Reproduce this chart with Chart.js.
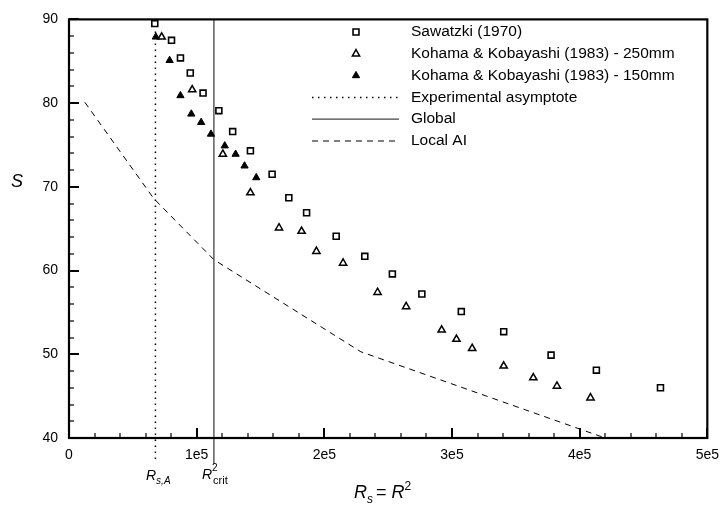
<!DOCTYPE html>
<html>
<head>
<meta charset="utf-8">
<script src="https://cdn.jsdelivr.net/npm/chart.js@4/dist/chart.umd.min.js"></script>
<style>
  html, body { margin: 0; padding: 0; background: #fff; }
  #wrap { width: 728px; height: 508px; }
</style>
</head>
<body>
<div id="wrap"><canvas id="sChart" width="728" height="508"></canvas></div>
<script>
// data
let sawX = [67200, 80300, 87300, 95000, 105000, 117400, 128200, 142100, 159100, 172200, 186100, 209300, 231700, 253300, 276400, 307300, 340500, 377600, 413100, 463300];
let sawY = [89.5, 87.5, 85.4, 83.6, 81.2, 79.1, 76.6, 74.3, 71.5, 68.7, 66.9, 64.1, 61.7, 59.6, 57.2, 55.1, 52.7, 49.9, 48.1, 46.0];

let k250X = [72600, 96500, 120500, 142100, 164500, 182200, 193800, 214700, 241700, 264100, 291900, 303500, 315800, 340500, 363700, 382200, 408500];
let k250Y = [87.9, 81.6, 73.9, 69.3, 65.1, 64.7, 62.3, 60.9, 57.4, 55.7, 52.9, 51.8, 50.7, 48.6, 47.2, 46.2, 44.8];

let k150X = [68000, 78800, 87300, 95800, 103500, 111200, 122000, 130500, 137500, 146700];
let k150Y = [87.9, 85.1, 80.9, 78.7, 77.7, 76.3, 74.9, 73.9, 72.5, 71.1];

let localX = [12400, 66400, 113500, 228600, 420000];
let localY = [80.1, 68.6, 61.3, 50.3, 40.0];

// vertical lines run a bit below the axis down to their labels
let asymX = 67700;
let asymY = [37.5, 90];
let globalX = 113500;
let globalY = [36.9, 90];

let xTicks = [0, 100000, 200000, 300000, 400000, 500000];
let yTicks = [40, 50, 60, 70, 80, 90];
let xMinorStep = 20000;
let yMinorStep = 2;

let labels = [
  "Sawatzki (1970)",
  "Kohama & Kobayashi (1983) - 250mm",
  "Kohama & Kobayashi (1983) - 150mm",
  "Experimental asymptote",
  "Global",
  "Local AI",
];

function toPoints(xs, ys) {
  let pts = [];
  for (let i = 0; i < xs.length; i++) {
    pts.push({ x: xs[i], y: ys[i] });
  }
  return pts;
}

let datasets = [
  {
    label: labels[0],
    data: toPoints(sawX, sawY),
    pointStyle: "rect",
    pointRadius: 4.2,
    borderColor: "#000",
    backgroundColor: "#fff",
    pointBorderWidth: 1.6,
    showLine: false,
  },
  {
    label: labels[1],
    data: toPoints(k250X, k250Y),
    pointStyle: "triangle",
    pointRadius: 4.2,
    borderColor: "#000",
    backgroundColor: "#fff",
    pointBorderWidth: 1.5,
    showLine: false,
  },
  {
    label: labels[2],
    data: toPoints(k150X, k150Y),
    pointStyle: "triangle",
    pointRadius: 4.2,
    borderColor: "#000",
    backgroundColor: "#000",
    pointBorderWidth: 1,
    showLine: false,
  },
  {
    label: labels[3],
    data: toPoints([asymX, asymX], asymY),
    showLine: true,
    pointRadius: 0,
    borderColor: "#000",
    borderWidth: 1.5,
    borderDash: [1.5, 4.5],
    clip: false,
  },
  {
    label: labels[4],
    data: toPoints([globalX, globalX], globalY),
    showLine: true,
    pointRadius: 0,
    borderColor: "#444",
    borderWidth: 1.3,
    clip: false,
  },
  {
    label: labels[5],
    data: toPoints(localX, localY),
    showLine: true,
    pointRadius: 0,
    borderColor: "#000",
    borderWidth: 1,
    borderDash: [6, 5],
  },
];

const FONT = "'Liberation Sans', Arial, Helvetica, sans-serif";

// frame, inward ticks, legend and the math labels
const decoPlugin = {
  id: "deco",
  afterDatasetsDraw(chart) {
    let ctx = chart.ctx;
    let a = chart.chartArea;
    let xs = chart.scales.x;
    let ys = chart.scales.y;
    ctx.save();
    ctx.strokeStyle = "#000";
    ctx.setLineDash([]);

    // minor + major ticks on bottom axis
    for (let v = xTicks[0]; v <= xTicks[xTicks.length - 1]; v += xMinorStep) {
      let major = xTicks.includes(v);
      let px = Math.round(xs.getPixelForValue(v));
      ctx.lineWidth = major ? 2 : 1.2;
      ctx.beginPath();
      ctx.moveTo(px, a.bottom);
      ctx.lineTo(px, a.bottom - (major ? 10 : 5));
      ctx.stroke();
    }
    // left axis
    for (let v = yTicks[0]; v <= yTicks[yTicks.length - 1]; v += yMinorStep) {
      let major = yTicks.includes(v);
      let py = Math.round(ys.getPixelForValue(v));
      ctx.lineWidth = major ? 2 : 1.2;
      ctx.beginPath();
      ctx.moveTo(a.left, py);
      ctx.lineTo(a.left + (major ? 10 : 5), py);
      ctx.stroke();
    }

    // frame
    ctx.lineWidth = 2.2;
    ctx.strokeRect(a.left, a.top, a.right - a.left, a.bottom - a.top);

    // legend
    let rowY0 = 32, rowStep = 21.8;
    let lineX1 = 312, lineX2 = 399, symX = 356, textX = 411;
    ctx.font = "15.5px " + FONT;
    ctx.fillStyle = "#000";
    ctx.textBaseline = "middle";
    ctx.textAlign = "left";
    chart.data.datasets.forEach(function (ds, i) {
      let y = rowY0 + i * rowStep;
      if (ds.showLine) {
        ctx.save();
        ctx.strokeStyle = ds.borderColor;
        ctx.lineWidth = ds.borderWidth;
        ctx.setLineDash(ds.borderDash || []);
        ctx.beginPath();
        ctx.moveTo(lineX1, y);
        ctx.lineTo(lineX2, y);
        ctx.stroke();
        ctx.restore();
      } else {
        ctx.save();
        ctx.fillStyle = ds.backgroundColor;
        ctx.strokeStyle = ds.borderColor;
        ctx.lineWidth = ds.pointBorderWidth;
        ctx.beginPath();
        if (ds.pointStyle === "rect") {
          let s = ds.pointRadius * Math.SQRT1_2;
          ctx.rect(symX - s, y - s, 2 * s, 2 * s);
        } else {
          let r = ds.pointRadius;
          ctx.moveTo(symX, y - r);
          ctx.lineTo(symX + r * 0.866, y + r * 0.5);
          ctx.lineTo(symX - r * 0.866, y + r * 0.5);
          ctx.closePath();
        }
        ctx.fill();
        ctx.stroke();
        ctx.restore();
      }
      ctx.fillStyle = "#000";
      ctx.fillText(ds.label, textX, y);
    });

    ctx.textBaseline = "alphabetic";

    // y title
    ctx.font = "italic 18px " + FONT;
    ctx.fillText("S", 11, 187);

    // x title  R_s = R^2
    let x = 354;
    ctx.font = "italic 18px " + FONT;
    ctx.fillText("R", x, 498);
    x += ctx.measureText("R").width;
    ctx.font = "italic 12px " + FONT;
    ctx.fillText("s", x, 503);
    x += ctx.measureText("s").width + 3;
    ctx.font = "18px " + FONT;
    ctx.fillText("=", x, 498);
    x += ctx.measureText("= ").width;
    ctx.font = "italic 18px " + FONT;
    ctx.fillText("R", x, 498);
    x += ctx.measureText("R").width;
    ctx.font = "12px " + FONT;
    ctx.fillText("2", x, 490);

    // R_s,A under the asymptote
    x = 146;
    ctx.font = "italic 14px " + FONT;
    ctx.fillText("R", x, 480);
    x += ctx.measureText("R").width;
    ctx.font = "italic 10px " + FONT;
    ctx.fillText("s,A", x, 484);

    // R^2 crit under global line
    x = 202;
    ctx.font = "italic 14px " + FONT;
    ctx.fillText("R", x, 479);
    x += ctx.measureText("R").width;
    ctx.font = "10px " + FONT;
    ctx.fillText("2", x, 471);
    ctx.font = "11px " + FONT;
    ctx.fillText("crit", x + 1, 484);

    ctx.restore();
  },
};

let cfg = {
  type: "scatter",
  data: { datasets: datasets },
  options: {
    responsive: false,
    animation: false,
    devicePixelRatio: 1,
    layout: { padding: { top: 10, right: 14, left: 0, bottom: 0 } },
    plugins: {
      legend: { display: false },
      tooltip: { enabled: false },
    },
    scales: {
      x: {
        type: "linear",
        min: 0,
        max: 500000,
        afterFit: function (s) { s.height = 70; },
        afterBuildTicks: function (s) { s.ticks = xTicks.map(function (v) { return { value: v }; }); },
        grid: { display: false, drawTicks: false },
        border: { display: false },
        ticks: {
          padding: 9,
          color: "#000",
          font: { family: FONT, size: 14 },
          callback: function (v) { return v === 0 ? "0" : (v / 100000) + "e5"; },
        },
      },
      y: {
        type: "linear",
        min: 40,
        max: 90,
        afterFit: function (s) { s.width = 69; },
        afterBuildTicks: function (s) { s.ticks = yTicks.map(function (v) { return { value: v }; }); },
        grid: { display: false, drawTicks: false },
        border: { display: false },
        ticks: {
          padding: 11,
          color: "#000",
          font: { family: FONT, size: 14 },
        },
      },
    },
  },
  plugins: [decoPlugin],
};

var sChart = new Chart(document.getElementById("sChart"), cfg);
</script>
</body>
</html>
